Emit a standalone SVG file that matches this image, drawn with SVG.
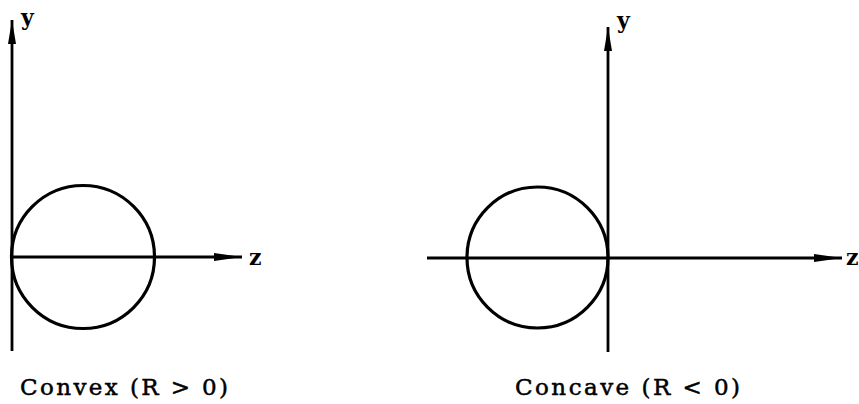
<svg xmlns="http://www.w3.org/2000/svg" width="859" height="404" viewBox="0 0 859 404">
<style>
.ax{stroke:#000;stroke-width:2.8;fill:none}
.c{stroke:#000;stroke-width:3.2;fill:none}
.lbl{font-family:"DejaVu Serif",serif;font-weight:bold;font-size:22px;fill:#000}
.cap{font-family:"DejaVu Serif",serif;font-size:23px;fill:#000;stroke:#000;stroke-width:0.5}
</style>
<defs>
<marker id="ah" viewBox="0 0 28 10" refX="28" refY="5" markerWidth="28" markerHeight="10" markerUnits="userSpaceOnUse" orient="auto">
<path d="M0,1 L28,5 L0,9 Z" fill="#000"/>
</marker>
<marker id="ahv" viewBox="0 0 24 10" refX="24" refY="5" markerWidth="24" markerHeight="10" markerUnits="userSpaceOnUse" orient="auto">
<path d="M0,1 L24,5 L0,9 Z" fill="#000"/>
</marker>
</defs>
<g id="convex">
<circle id="convex-circle" class="c" cx="83" cy="257" r="71.5"/>
<text class="lbl" x="21" y="25">y</text>
<text class="lbl" x="249" y="265">z</text>
<text class="cap" x="20" y="395" textLength="208" lengthAdjust="spacing">Convex (R &gt; 0)</text>
</g>
<g id="concave">
<circle id="concave-circle" class="c" cx="537.5" cy="257.5" r="70.5"/>
<text class="lbl" x="617" y="28">y</text>
<text class="lbl" x="846" y="265">z</text>
<text class="cap" x="515" y="395" textLength="225" lengthAdjust="spacing">Concave (R &lt; 0)</text>
</g>
<g id="connectors">
<line class="ax" x1="12" y1="351" x2="12" y2="20" marker-end="url(#ahv)"/>
<line class="ax" x1="12" y1="257" x2="242" y2="257" marker-end="url(#ah)"/>
<line class="ax" x1="608" y1="352" x2="608" y2="27" marker-end="url(#ahv)"/>
<line class="ax" x1="427" y1="258" x2="842" y2="258" marker-end="url(#ah)"/>
</g>
</svg>
